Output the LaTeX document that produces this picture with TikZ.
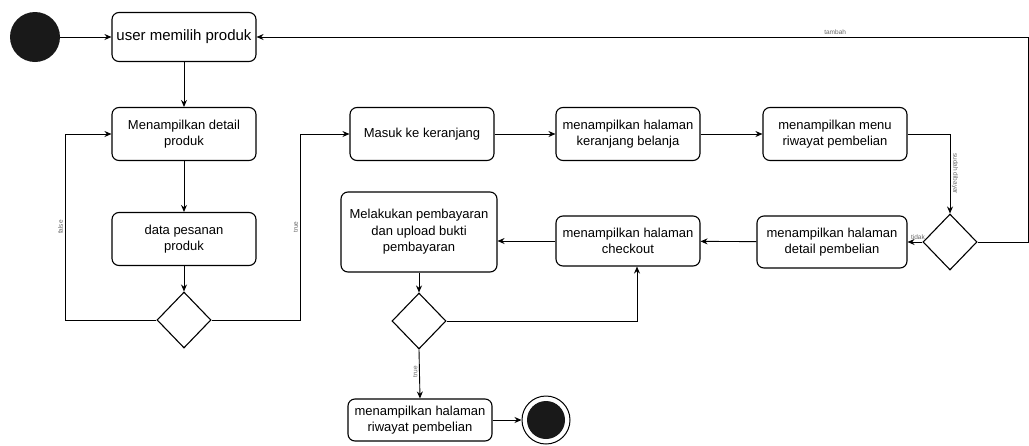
\documentclass[tikz,border=0pt]{standalone}
\usepackage{fontspec}
\setmainfont{Liberation Sans}
\usetikzlibrary{shapes.geometric,arrows.meta}

\begin{document}
\begin{tikzpicture}[x=1pt,y=-1pt,
  akt/.style={draw,line width=1.1pt,rounded corners=7pt,align=center,
    minimum width=144pt,minimum height=53pt,inner sep=2pt,
    font=\fontsize{13}{16.5}\selectfont},
  keputusan/.style={draw,line width=1.1pt,diamond,aspect=1,inner sep=0pt,
    minimum width=54pt,minimum height=56pt},
  panah/.style={line width=0.9pt,-{Stealth[length=7pt,width=6pt]}},
  ket/.style={font=\fontsize{6.5}{7}\selectfont,text=black!60,inner sep=1.5pt}]

\useasboundingbox (0,0) rectangle (1029,445);

% Mulai dan selesai
\node[circle,fill=black!90,minimum size=50pt,inner sep=0pt] (mulai) at (35,37) {};
\node[circle,draw,line width=1pt,minimum size=48pt,inner sep=0pt] (selesai) at (546,420) {};
\fill[black!90] (selesai.center) circle (19pt);

% Aktivitas
\node[akt,minimum height=49pt,font=\fontsize{15}{17}\selectfont] (pilih) at (184,37) {user memilih produk};
\node[akt] (detail) at (184,134) {Menampilkan detail\\produk};
\node[akt] (pesanan) at (184,239) {data pesanan\\produk};
\node[akt] (keranjang) at (422,134) {Masuk ke keranjang};
\node[akt] (halkeranjang) at (628,134) {menampilkan halaman\\keranjang belanja};
\node[akt] (menu) at (835,134) {menampilkan menu\\riwayat pembelian};
\node[akt,minimum width=150pt,minimum height=52pt] (detailbeli) at (832,242) {menampilkan halaman\\detail pembelian};
\node[akt,minimum height=50pt] (checkout) at (628,241) {menampilkan halaman\\checkout};
\node[akt,minimum width=156pt,minimum height=80pt] (bayar) at (419,232) {Melakukan pembayaran\\dan upload bukti\\pembayaran};
\node[akt,minimum height=42pt] (riwayat) at (420,420) {menampilkan halaman\\riwayat pembelian};

% Keputusan
\node[keputusan] (cek1) at (184,320) {};
\node[keputusan] (cek2) at (950,242) {};
\node[keputusan] (cek3) at (419,321) {};

% Titik belok
\coordinate (belokfalse) at (65,320);
\coordinate (beloktrue) at (300,320);
\coordinate (belokkanan) at (1028,242);

% Alur
\draw[panah] (mulai) -- (pilih.west);
\draw[panah] (pilih) -- (detail);
\draw[panah] (detail) -- (pesanan);
\draw[panah] (pesanan) -- (cek1);
\draw[panah] (cek1.west) -- (belokfalse) |- node[pos=0.25,rotate=90,anchor=south,ket] {false} (detail.west);
\draw[panah] (cek1.east) -- (beloktrue) |- node[pos=0.25,rotate=90,anchor=south,ket] {true} (keranjang.west);
\draw[panah] (keranjang) -- (halkeranjang);
\draw[panah] (halkeranjang) -- (menu);
\draw[panah] (menu.east) -| node[pos=0.75,rotate=-90,anchor=south,ket] {sudah dibayar} (cek2.north);
\draw[panah] (cek2.east) -- (belokkanan) |- node[pos=0.625,above,ket] {tambah} (pilih.east);
\draw[panah] (cek2.west) -- node[pos=0.3,above,ket] {tidak} (detailbeli.east);
\draw[panah] (detailbeli) -- (checkout);
\draw[panah] (checkout.west) -- (bayar.east |- checkout.west);
\draw[panah] (bayar) -- (cek3);
\draw[panah] (cek3.east) -| ([xshift=9pt]checkout.south);
\draw[panah] (cek3.south) -- node[pos=0.45,rotate=90,anchor=south,ket] {true} (riwayat.north);
\draw[panah] (riwayat) -- (selesai);

\end{tikzpicture}
\end{document}
